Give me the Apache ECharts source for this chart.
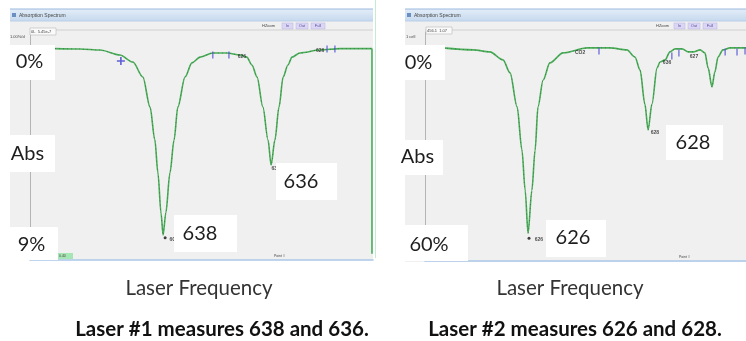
<!DOCTYPE html>
<html><head><meta charset="utf-8">
<script src="https://cdn.jsdelivr.net/npm/echarts@6/dist/echarts.min.js"></script>
<style>html,body{margin:0;padding:0;background:#fff}#c{width:746px;height:341px}</style>
</head><body><div id="c"></div>
<script>
// ---- Laser #1 spectrum (frequency in point units, absorption in %) ----
const leftFreq = [73,146,204,262,300,329,350,364,373,382,388,396,408,420,431,452,472,496,533,574,612,632,647,662,679,694,703,714,726,738,752,764,787,845,904,997];
const leftAbs  = [0,0.02,0.07,0.31,0.65,1.37,2.82,4.41,6.0,7.93,9.0,7.93,6.0,4.41,2.82,1.37,0.69,0.41,0.21,0.21,0.31,0.41,0.79,1.37,2.82,4.41,5.62,4.41,2.82,1.37,0.79,0.41,0.21,0.07,0,0];
const leftEdgeFreq = [997,997];
const leftEdgeAbs = [0,9.9];
// ---- Laser #2 spectrum ----
const rightFreq = [56,150,202,243,265,287,302,312,321,333,343,352,368,389,430,505,576,629,654,670,685,695,707,723,732,748,763,779,801,820,835,857,872,882,894,903,913,928,950,1000];
const rightAbs  = [0,0.64,1.28,3.85,8.0,18.9,32.7,45.6,59.4,45.6,32.7,18.9,10.3,4.8,1.6,0,0,0.64,2.9,7.1,18.0,26.3,18.0,6.4,4.5,3.85,1.28,0.32,0.32,1.28,1.28,0.64,1.6,6.4,12.5,7.7,2.9,0.64,0,0];
// ---- line-position tick markers ----
const leftTickFreq = [533,580,866,889];
const leftTickAbs  = [0.31,0.31,0.02,0.02];
const rightTickFreq = [542,769,791,935,972,997];
const rightTickAbs  = [1.0,2.6,1.6,1.3,1.3,1.0];
// ---- small software tags ----
const leftTagFreq = [618,846,416,712];
const leftTagAbs  = [0.4,0.12,9.2,5.8];
const leftTagText = ['626','626','6C','63'];
const rightTagFreq = [483,754,838,716,355];
const rightTagAbs  = [1.6,4.8,2.9,27.3,61.3];
const rightTagText = ['CO2','636','627','628','626'];
const leftPeakFreq = [394]; const leftPeakAbs = [9.13];
const rightPeakFreq = [324]; const rightPeakAbs = [61];
const leftCursorFreq = [265]; const leftCursorAbs = [0.6];
// ---- overlay labels ----
const leftScale = ['0%','Abs','9%'];
const rightScale = ['0%','Abs','60%'];
const leftPeaks = ['638','636'];
const rightPeaks = ['626','628'];
const axisTitle = 'Laser Frequency';
const captions = ['Laser #1 measures 638 and 636.','Laser #2 measures 626 and 628.'];

const zip = (a,b,c)=>a.map((v,i)=>c?[v,b[i],c[i]]:[v,b[i]]);
const GREEN='#4aae59';

function box(x,y,w,h,t,cx,cy){
  return {type:'group',z:100,children:[
    {type:'rect',z:100,shape:{x:x,y:y,width:w,height:h},style:{fill:'#ffffff'}},
    {type:'text',z:101,style:{text:t,x:cx,y:cy,font:'20px Lato',fill:'#1e1e1e',textAlign:'center',textVerticalAlign:'middle'}}
  ]};
}
function tiny(t,x,y,sz){return {type:'text',z:5,style:{text:t,x:x,y:y,font:(sz||5)+'px Arial',fill:'#444',textVerticalAlign:'middle'}};}
function win(x,w,h,btnX,hzX){
  const g=[];
  g.push({type:'rect',z:-1,shape:{x:x,y:9,width:w,height:h},style:{fill:'#f0f0f0'}});
  g.push({type:'rect',z:-1,shape:{x:x,y:9,width:w,height:12},style:{fill:new echarts.graphic.LinearGradient(0,0,0,1,[{offset:0,color:'#e3edf8'},{offset:1,color:'#c6d9ee'}])}});
  g.push({type:'line',z:-1,shape:{x1:x,y1:9,x2:x+w,y2:9},style:{stroke:'#9ab8dc',lineWidth:1}});
  g.push({type:'line',z:-1,shape:{x1:x,y1:21,x2:x+w,y2:21},style:{stroke:'#b9cfe8',lineWidth:1}});
  g.push({type:'rect',z:1,shape:{x:x+2,y:13,width:4,height:4},style:{fill:'#6a8fc0'}});
  g.push(tiny('Absorption Spectrum',x+9,15.5,5));
  g.push(tiny('HZoom',hzX,25.5,4));
  const bw=[11,12,14]; const bl=['In','Out','Full']; let bx=btnX;
  for(let i=0;i<3;i++){
    g.push({type:'rect',z:1,shape:{x:bx,y:23,width:bw[i],height:6},style:{fill:'#dcd6f4',stroke:'#b8b0e0',lineWidth:0.5}});
    g.push({type:'text',z:2,style:{text:bl[i],x:bx+bw[i]/2,y:26,font:'4px Arial',fill:'#5050a0',textAlign:'center',textVerticalAlign:'middle'}});
    bx+=bw[i]+3;
  }
  return g;
}

const graphic=[]
  .concat(win(10,363,251,282,262))
  .concat(win(405,341,253,674,656))
  .concat([
    {type:'line',z:1,shape:{x1:30,y1:30,x2:373,y2:30},style:{stroke:'#c8c8c8',lineWidth:0.8}},
    {type:'line',z:1,shape:{x1:425,y1:30,x2:746,y2:30},style:{stroke:'#c8c8c8',lineWidth:0.8}},
    {type:'rect',z:3,shape:{x:30,y:28,width:26,height:7},style:{fill:'#fafafa',stroke:'#bbb',lineWidth:0.6}},
    tiny('0L  5.45e-7',31,31.5,4),
    {type:'rect',z:3,shape:{x:426,y:27,width:26,height:7},style:{fill:'#fafafa',stroke:'#bbb',lineWidth:0.6}},
    tiny('456.1  1.07',427,30.5,4),
    tiny('1.00%/d',10,37,4),
    tiny('1 cell',406,37,4),
    {type:'rect',z:3,shape:{x:58,y:253,width:15,height:6},style:{fill:'#a6e6b4'}},
    tiny('0.40',59,256,3.5),
    tiny('Point #',274,256,3.5),
    {type:'line',z:3,shape:{x1:467,y1:254,x2:467,y2:261},style:{stroke:'#a6e6b4',lineWidth:1.5}},
    tiny('Point #',679,257,3.5),
    {type:'line',z:3,shape:{x1:375.5,y1:0,x2:375.5,y2:258},style:{stroke:'#c4ecd0',lineWidth:1}},
    box(10,45,45,35,leftScale[0],29.5,62),
    box(10,135,45,37,leftScale[1],27.5,154),
    box(10,227,48,33,leftScale[2],31.5,245),
    box(276,163,61,37,leftPeaks[1],301,182),
    box(174,215,63,37,leftPeaks[0],200,234),
    box(403,45,42,35,rightScale[0],418.5,63),
    box(400,140,43,35,rightScale[1],417.5,157),
    box(405,225,63,36,rightScale[2],429,245),
    box(546,220,60,37,rightPeaks[0],573,238),
    box(666,125,57,35,rightPeaks[1],693,143),
    {type:'text',z:100,style:{text:axisTitle,x:199,y:288,font:'20.5px Lato',fill:'#333',textAlign:'center',textVerticalAlign:'middle'}},
    {type:'text',z:100,style:{text:axisTitle,x:570,y:288,font:'20.5px Lato',fill:'#333',textAlign:'center',textVerticalAlign:'middle'}},
    {type:'text',z:100,style:{text:captions[0],x:222,y:329,font:'bold 20.5px Lato',fill:'#111',textAlign:'center',textVerticalAlign:'middle'}},
    {type:'text',z:100,style:{text:captions[1],x:575,y:329,font:'bold 20.5px Lato',fill:'#111',textAlign:'center',textVerticalAlign:'middle'}}
  ]);

const tagLabel={show:true,position:'inside',formatter:p=>p.value[2],fontSize:5,fontWeight:'bold',color:'#222',fontFamily:'Arial'};
const xAx=(g)=>({type:'value',gridIndex:g,min:0,max:1000,axisLabel:{show:false},axisTick:{show:false},splitLine:{show:false},axisLine:{show:true,onZero:false,lineStyle:{color:'#a9c8e8',width:1.5}}});
const yAx=(g,mn,mx)=>({type:'value',gridIndex:g,inverse:true,min:mn,max:mx,axisLabel:{show:false},axisTick:{show:false},splitLine:{show:false},axisLine:{show:true,onZero:false,lineStyle:{color:'#b4b4b4',width:1}}});
const chart=echarts.init(document.getElementById('c'),null,{renderer:'canvas'});
chart.setOption({
  animation:false,
  grid:[{left:30,top:32,width:343,height:228},{left:425,top:32,width:321,height:229}],
  xAxis:[xAx(0),xAx(1)],
  yAxis:[yAx(0,-0.8,10.2),yAx(1,-5.1,68.3)],
  graphic:graphic,
  series:[
    {type:'line',xAxisIndex:0,yAxisIndex:0,data:zip(leftFreq,leftAbs),smooth:0.3,smoothMonotone:'x',showSymbol:false,lineStyle:{color:GREEN,width:1.6},z:3},
    {type:'line',xAxisIndex:0,yAxisIndex:0,data:zip(leftFreq,leftAbs),smooth:0.3,smoothMonotone:'x',showSymbol:false,lineStyle:{color:'#2b3b2b',width:0.8,type:[1,3],opacity:0.5},z:4},
    {type:'line',xAxisIndex:0,yAxisIndex:0,data:zip(leftEdgeFreq,leftEdgeAbs),showSymbol:false,lineStyle:{color:GREEN,width:1.6},z:3},
    {type:'line',xAxisIndex:1,yAxisIndex:1,data:zip(rightFreq,rightAbs),smooth:0.3,smoothMonotone:'x',showSymbol:false,lineStyle:{color:GREEN,width:1.6},z:3},
    {type:'line',xAxisIndex:1,yAxisIndex:1,data:zip(rightFreq,rightAbs),smooth:0.3,smoothMonotone:'x',showSymbol:false,lineStyle:{color:'#2b3b2b',width:0.8,type:[1,3],opacity:0.5},z:4},
    {type:'scatter',xAxisIndex:0,yAxisIndex:0,data:zip(leftTickFreq,leftTickAbs),symbol:'rect',symbolSize:[1.3,7],itemStyle:{color:'#4b4bd6'},z:5},
    {type:'scatter',xAxisIndex:1,yAxisIndex:1,data:zip(rightTickFreq,rightTickAbs),symbol:'rect',symbolSize:[1.3,7],itemStyle:{color:'#4b4bd6'},z:5},
    {type:'scatter',xAxisIndex:0,yAxisIndex:0,data:zip(leftCursorFreq,leftCursorAbs),symbol:'path://M4 0H6V4H10V6H6V10H4V6H0V4H4Z',symbolSize:8,itemStyle:{color:'#3b3bd0'},z:5},
    {type:'scatter',xAxisIndex:0,yAxisIndex:0,data:zip(leftPeakFreq,leftPeakAbs),symbol:'circle',symbolSize:3,itemStyle:{color:'#111'},z:5},
    {type:'scatter',xAxisIndex:1,yAxisIndex:1,data:zip(rightPeakFreq,rightPeakAbs),symbol:'circle',symbolSize:3,itemStyle:{color:'#111'},z:5},
    {type:'scatter',xAxisIndex:0,yAxisIndex:0,data:zip(leftTagFreq,leftTagAbs,leftTagText),symbolSize:1,itemStyle:{color:'rgba(0,0,0,0)'},label:tagLabel,z:6},
    {type:'scatter',xAxisIndex:1,yAxisIndex:1,data:zip(rightTagFreq,rightTagAbs,rightTagText),symbolSize:1,itemStyle:{color:'rgba(0,0,0,0)'},label:tagLabel,z:6}
  ]
});
</script></body></html>
